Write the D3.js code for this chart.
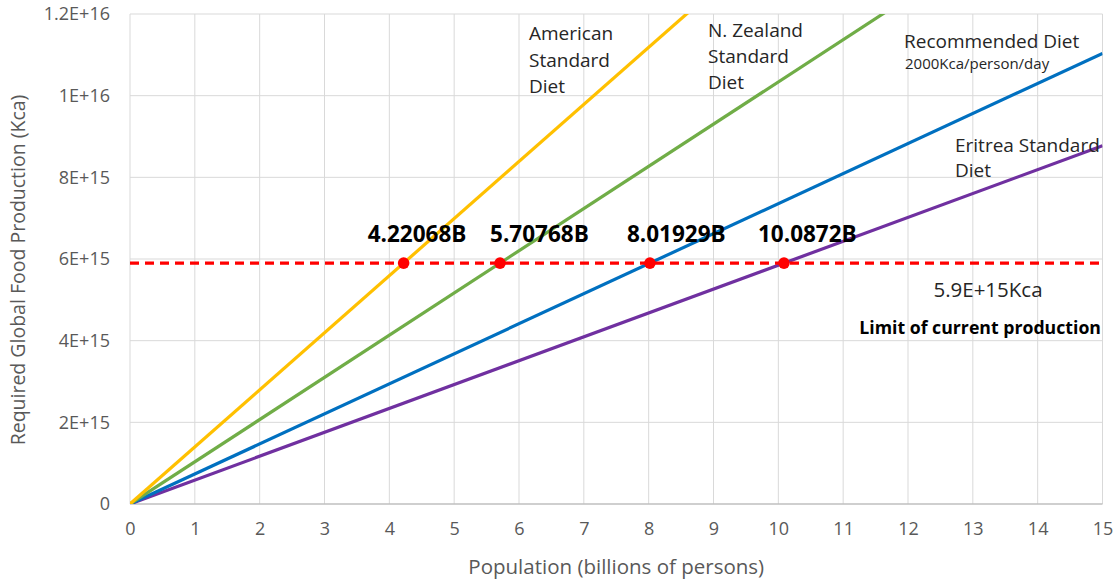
<!DOCTYPE html>
<html>
<head>
<meta charset="utf-8">
<script src="https://cdn.jsdelivr.net/npm/d3@7"></script>
<style>
  html, body { margin: 0; padding: 0; background: #fff; }
  svg { display: block; font-family: "Open Sans", sans-serif; }
</style>
</head>
<body>
<svg id="chart" width="1116" height="581"></svg>
<script>
// Global food production needed for a given population under different diets
const diets = ["American Standard Diet", "N. Zealand Standard Diet", "Recommended Diet", "Eritrea Standard Diet"];
const dietColors = ["#FFC000", "#70AD47", "#0070C0", "#7030A0"];
// population (billions) at which each diet reaches the current production limit
const popAtLimit = [4.22068, 5.70768, 8.01929, 10.0872];
const popLabels = ["4.22068B", "5.70768B", "8.01929B", "10.0872B"];
const productionLimit = 5.9e15;          // Kca
const xTicks = [0, 1, 2, 3, 4, 5, 6, 7, 8, 9, 10, 11, 12, 13, 14, 15];
const yTicks = [0, 2e15, 4e15, 6e15, 8e15, 1e16, 1.2e16];
const yTickLabels = ["0", "2E+15", "4E+15", "6E+15", "8E+15", "1E+16", "1.2E+16"];

const svg = d3.select("#chart");
const plotLeft = 130, plotRight = 1102.5, plotTop = 14, plotBottom = 504;

const x = d3.scaleLinear().domain([0, 15]).range([plotLeft, plotRight]);
const y = d3.scaleLinear().domain([0, 1.2e16]).range([plotBottom, plotTop]);

// gridlines
const grid = svg.append("g");
grid.selectAll("line.v").data(xTicks).join("line").attr("class", "v")
  .attr("x1", d => x(d)).attr("x2", d => x(d))
  .attr("y1", plotTop).attr("y2", plotBottom)
  .attr("stroke", "#d9d9d9").attr("stroke-width", 1);
grid.selectAll("line.h").data(yTicks).join("line").attr("class", "h")
  .attr("x1", plotLeft).attr("x2", plotRight)
  .attr("y1", d => y(d)).attr("y2", d => y(d))
  .attr("stroke", d => d === 0 ? "#bfbfbf" : "#d9d9d9").attr("stroke-width", d => d === 0 ? 1.5 : 1);

// axes (labels only)
const xAxis = svg.append("g").attr("transform", `translate(0,${plotBottom})`)
  .call(d3.axisBottom(x).tickValues(xTicks).tickFormat(d3.format("d")).tickSize(0).tickPadding(18));
const yAxis = svg.append("g").attr("transform", `translate(${plotLeft},0)`)
  .call(d3.axisLeft(y).tickValues(yTicks).tickFormat((d, i) => yTickLabels[i]).tickSize(0).tickPadding(20));
[xAxis, yAxis].forEach(a => {
  a.select(".domain").remove();
  a.selectAll("text").attr("fill", "#595959").style("font-size", "18px")
    .style("font-family", "'Open Sans', sans-serif");
});

// axis titles
svg.append("text").attr("x", (plotLeft + plotRight) / 2).attr("y", 574)
  .attr("text-anchor", "middle").attr("fill", "#595959").style("font-size", "20.5px")
  .text("Population (billions of persons)");
svg.append("text").attr("transform", `translate(25,270) rotate(-90)`)
  .attr("text-anchor", "middle").attr("fill", "#595959").style("font-size", "19.5px")
  .text("Required Global Food Production (Kca)");

// diet lines, clipped to the plot area
svg.append("clipPath").attr("id", "plot-clip").append("rect")
  .attr("x", plotLeft).attr("y", plotTop).attr("width", plotRight - plotLeft).attr("height", plotBottom - plotTop);
const line = d3.line().x(d => x(d[0])).y(d => y(d[1]));
const lines = svg.append("g").attr("clip-path", "url(#plot-clip)");
// drawn back to front so that the yellow line sits on top
const order = [3, 2, 1, 0];
lines.selectAll("path").data(order).join("path")
  .attr("d", i => {
    const slope = productionLimit / popAtLimit[i];
    return line([[0, 0], [15, slope * 15]]);
  })
  .attr("fill", "none")
  .attr("stroke", i => dietColors[i])
  .attr("stroke-width", 3.2);

// production limit
svg.append("line")
  .attr("x1", plotLeft).attr("x2", plotRight)
  .attr("y1", y(productionLimit)).attr("y2", y(productionLimit))
  .attr("stroke", "#FF0000").attr("stroke-width", 3.2)
  .attr("stroke-dasharray", "9,6");

// intersection points and their labels
svg.selectAll("circle.pt").data(popAtLimit).join("circle").attr("class", "pt")
  .attr("cx", d => x(d)).attr("cy", y(productionLimit)).attr("r", 5.8)
  .attr("fill", "#FF0000");
const labelDx = [-36, -10, -23, -26];
svg.selectAll("text.pt").data(popAtLimit).join("text").attr("class", "pt")
  .attr("x", (d, i) => x(d) + labelDx[i]).attr("y", 242)
  .attr("fill", "#000").style("font-size", "22.5px").style("font-weight", "bold")
  .text((d, i) => popLabels[i]);

// limit annotation
svg.append("text").attr("x", 988).attr("y", 297).attr("text-anchor", "middle")
  .attr("fill", "#262626").style("font-size", "20.5px").text("5.9E+15Kca");
svg.append("text").attr("x", 1101).attr("y", 334).attr("text-anchor", "end")
  .attr("fill", "#000").style("font-size", "17.7px").style("font-weight", "bold")
  .text("Limit of current production");

// diet annotations
function multiline(xPos, baselines, rows, size) {
  rows.forEach((r, k) => {
    svg.append("text").attr("x", xPos).attr("y", baselines[k])
      .attr("fill", "#262626").style("font-size", size + "px").text(r);
  });
}
multiline(529, [40, 67, 93], ["American", "Standard", "Diet"], 19);
multiline(708, [37, 63, 89], ["N. Zealand", "Standard", "Diet"], 19);
multiline(904, [48], ["Recommended Diet"], 19);
multiline(905, [69], ["2000Kca/person/day"], 15);
multiline(955, [152, 177], ["Eritrea Standard", "Diet"], 19);
</script>
</body>
</html>
